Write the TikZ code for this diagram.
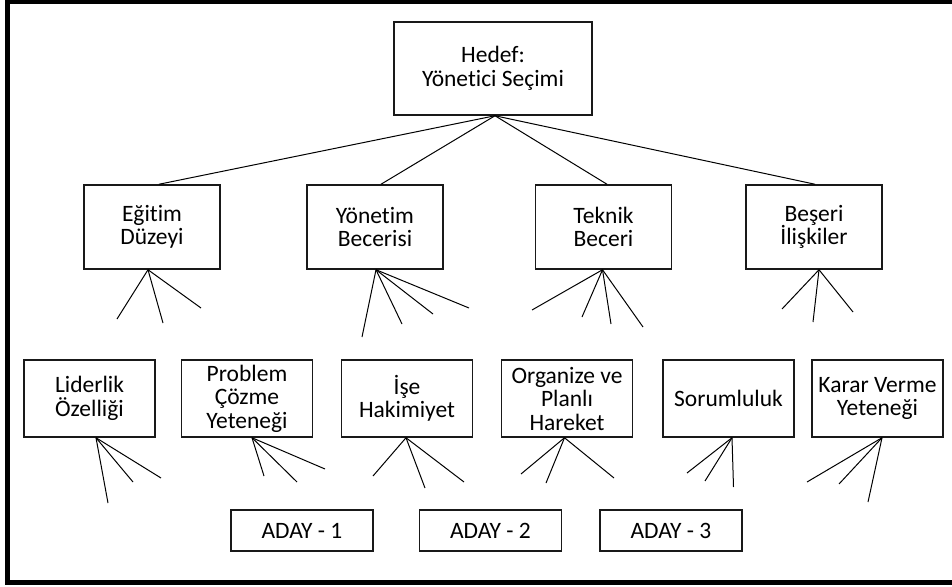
\documentclass[tikz,border=0pt]{standalone}
\usepackage{fontspec}
\setmainfont{Carlito}[Ligatures=NoCommon]
\begin{document}
\begin{tikzpicture}[x=1pt,y=-1pt,
  box/.style={draw=black!90, line width=1.5pt, rectangle, inner sep=0pt,
    align=center, text=black, font=\fontsize{23.5}{23.5}\selectfont},
  lvlone/.style={box, minimum width=136, minimum height=84},
  lvltwo/.style={box, minimum width=131, minimum height=77},
  cand/.style={box, minimum width=142, minimum height=41},
  conn/.style={line width=1pt, black},
  fan/.style={line width=1pt, black}]
\useasboundingbox (0,0) rectangle (952,586);

% outer frame (open on the right)
\draw[line width=5pt] (952,2) -- (7,2) -- (7,582) -- (952,582);

% goal
\node[box, minimum width=198, minimum height=93] (hedef) at (493,68.5) {Hedef:\\Yönetici Seçimi};

% main criteria
\node[lvlone] (egitim)  at (152,227)   {Eğitim\\Düzeyi};
\node[lvlone] (yonetim) at (375,227)   {Yönetim\\Becerisi};
\node[lvlone] (teknik)  at (603.5,227) {Teknik\\Beceri};
\node[lvlone] (beseri)  at (814,227)   {Beşeri\\İlişkiler};

% sub criteria
\node[lvltwo] (lider)    at (89.5,398.5)  {Liderlik\\Özelliği};
\node[lvltwo] (problem)  at (247,398.5)   {Problem\\Çözme\\Yeteneği};
\node[lvltwo] (ise)      at (407,398.5)   {İşe\\Hakimiyet};
\node[lvltwo] (organize) at (567,398.5)   {Organize ve\\Planlı\\Hareket};
\node[lvltwo] (sorum)    at (728.5,398.5) {Sorumluluk};
\node[lvltwo] (karar)    at (877.5,398.5) {Karar Verme\\Yeteneği};

% candidates
\node[cand] (aday1) at (302,530.5)   {ADAY - 1};
\node[cand] (aday2) at (490.5,530.5) {ADAY - 2};
\node[cand] (aday3) at (671,530.5)   {ADAY - 3};

% goal to main criteria
\coordinate (top) at ([xshift=2pt]hedef.south);
\draw[conn] (top) -- ([xshift=7pt]egitim.north);
\draw[conn] (top) -- ([xshift=6pt]yonetim.north);
\draw[conn] (top) -- ([xshift=3.5pt]teknik.north);
\draw[conn] (top) -- ([xshift=1pt]beseri.north);

% fans below the main criteria
\foreach \x/\y [count=\i] in {117/319,163/323,201/308}{
  \coordinate (eg-\i) at (\x,\y);
  \draw[fan] ([xshift=-4pt]egitim.south) -- (eg-\i);}
\foreach \x/\y [count=\i] in {362/337,402/324,433/314,469/308}{
  \coordinate (yo-\i) at (\x,\y);
  \draw[fan] ([xshift=1pt]yonetim.south) -- (yo-\i);}
\foreach \x/\y [count=\i] in {532/310,582/317,611/324,643/327}{
  \coordinate (te-\i) at (\x,\y);
  \draw[fan] ([xshift=-1pt]teknik.south) -- (te-\i);}
\foreach \x/\y [count=\i] in {782/309,813/322,853/312}{
  \coordinate (be-\i) at (\x,\y);
  \draw[fan] ([xshift=5pt]beseri.south) -- (be-\i);}

% fans below the sub criteria
\foreach \x/\y [count=\i] in {108/503,133/482,161/478}{
  \coordinate (li-\i) at (\x,\y);
  \draw[fan] ([xshift=6.5pt]lider.south) -- (li-\i);}
\foreach \x/\y [count=\i] in {264/476,297/482,325/469}{
  \coordinate (pr-\i) at (\x,\y);
  \draw[fan] ([xshift=5pt]problem.south) -- (pr-\i);}
\foreach \x/\y [count=\i] in {373/476,425/488,464/482}{
  \coordinate (is-\i) at (\x,\y);
  \draw[fan] ([xshift=-1pt]ise.south) -- (is-\i);}
\foreach \x/\y [count=\i] in {521/474,546/483,614/478}{
  \coordinate (or-\i) at (\x,\y);
  \draw[fan] ([xshift=-2.5pt]organize.south) -- (or-\i);}
\foreach \x/\y [count=\i] in {687/473,705/481,733.5/487}{
  \coordinate (so-\i) at (\x,\y);
  \draw[fan] ([xshift=3.5pt]sorum.south) -- (so-\i);}
\foreach \x/\y [count=\i] in {807/482,839/484,868/502}{
  \coordinate (ka-\i) at (\x,\y);
  \draw[fan] ([xshift=4.5pt]karar.south) -- (ka-\i);}
\end{tikzpicture}
\end{document}
